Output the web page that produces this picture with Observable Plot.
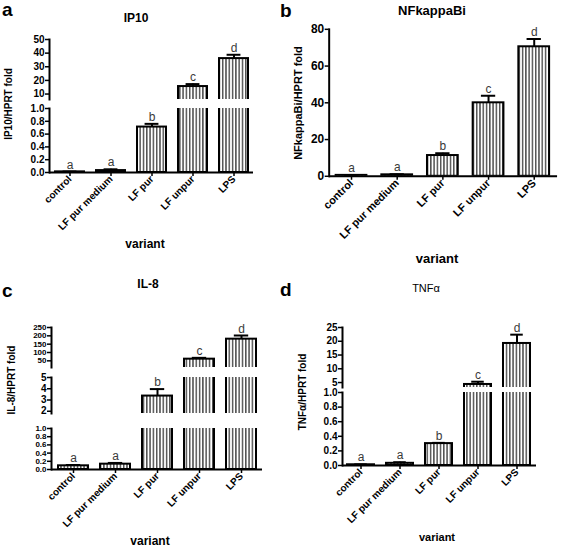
<!DOCTYPE html>
<html>
<head>
<meta charset="utf-8">
<script src="https://cdn.jsdelivr.net/npm/d3@7"></script>
<script src="https://cdn.jsdelivr.net/npm/@observablehq/plot@0.6"></script>
<style>
  html, body { margin: 0; padding: 0; background: white; }
  #root { position: relative; width: 567px; height: 547px; overflow: hidden; background: white; font-family: "Liberation Sans", Arial, sans-serif; color: #000; }
  .txt { position: absolute; white-space: nowrap; transform: translate(-50%, -50%); line-height: 1; }
  .ylab { position: absolute; white-space: nowrap; transform: translate(-50%, -50%) rotate(-90deg); font-weight: bold; line-height: 1; }
  .letter { position: absolute; font-weight: bold; line-height: 1; }
</style>
</head>
<body>
<svg width="0" height="0" style="position:absolute">
  <defs>
    <pattern id="stripes" width="3.3" height="10" patternUnits="userSpaceOnUse">
      <rect width="3.3" height="10" fill="white"></rect>
      <line x1="1.6" y1="0" x2="1.6" y2="10" stroke="#111" stroke-width="1.1"></line>
    </pattern>
  </defs>
</svg>
<div id="root"></div>
<script>
const categories = ["control", "LF pur medium", "LF pur", "LF unpur", "LPS"];
const letters = ["a", "a", "b", "c", "d"];

const ip10Mean = [0.01, 0.03, 0.71, 15.5, 36];
const ip10Err  = [0.005, 0.02, 0.05, 1.8, 2.8];
const nfkbMean = [0.5, 0.8, 11.3, 40, 70.5];
const nfkbErr  = [0.2, 0.3, 1.2, 3.8, 4.2];
const il8Mean  = [0.09, 0.13, 3.35, 60, 180];
const il8Err   = [0.02, 0.03, 0.62, 8, 22];
const tnfMean  = [0.01, 0.03, 0.30, 4.3, 19.2];
const tnfErr   = [0.005, 0.015, 0.01, 1.0, 3.2];

const ip10UpperTicks = [10, 20, 30, 40, 50];
const fractionTicks  = [0, 0.2, 0.4, 0.6, 0.8, 1.0];
const nfkbTicks      = [0, 20, 40, 60, 80];
const il8UpperTicks  = [50, 100, 150, 200, 250];
const il8MidTicks    = [2, 3, 4, 5];
const tnfUpperTicks  = [5, 10, 15, 20, 25];

const root = document.getElementById("root");
const FONT = '"Liberation Sans", Arial, sans-serif';

function segment(o) {
  const mt = 24;
  const mb = o.xAxis ? 110 : 2;
  const h = (o.bottom - o.top) + mt + mb;
  const data = categories.map((c, i) => ({cat: c, v: o.mean[i], e: o.err[i], l: letters[i]}));
  const top = d => d.v + d.e;
  const inSeg = d => top(d) >= o.domain[0] && top(d) <= o.domain[1] * 1.0001;
  const step = (o.axisEnd - o.axisX) / (5 - o.pi + 2 * o.po);
  const bw = step * (1 - o.pi);
  const capInset = bw * 0.26;
  const marks = [
    Plot.barY(data, {x: "cat", y1: 0, y2: "v", fill: "url(#stripes)", stroke: "black", strokeWidth: 2, clip: true}),
    Plot.ruleX(data, {x: "cat", y1: "v", y2: top, stroke: "black", strokeWidth: 2, clip: true}),
    Plot.tickY(data, {x: "cat", y: top, stroke: "black", strokeWidth: 2, insetLeft: capInset, insetRight: capInset, clip: true}),
    Plot.text(data.filter(inSeg), {x: "cat", y: top, text: "l", lineAnchor: "bottom", dy: -3, fill: "#3a3a3a", fontSize: 12, fontWeight: "normal"}),
    Plot.axisY({ticks: o.ticks, tickFormat: o.fmt, tickSize: 4, tickPadding: 1, strokeWidth: 1.5, fontSize: o.tickFont, fontWeight: "bold", label: null}),
    Plot.frame({anchor: "left", stroke: "black", strokeWidth: 2})
  ];
  if (o.xAxis) {
    marks.push(Plot.ruleY([o.domain[0]], {stroke: "black", strokeWidth: 2}));
    marks.push(Plot.axisX({tickRotate: -45, tickSize: 4, tickPadding: 1, strokeWidth: 1.5, fontSize: o.xFont, fontWeight: "bold", label: null}));
  }
  const svg = Plot.plot({
    width: o.axisEnd + 10,
    height: h,
    marginTop: mt,
    marginBottom: mb,
    marginLeft: o.axisX,
    marginRight: 10,
    style: {background: "transparent", overflow: "visible", fontFamily: FONT, color: "black"},
    x: {domain: categories, paddingInner: o.pi, paddingOuter: o.po, axis: null},
    y: {domain: o.domain, axis: null},
    marks
  });
  svg.style.position = "absolute";
  svg.style.left = "0px";
  svg.style.top = (o.top - mt) + "px";
  root.appendChild(svg);
}

function addText(cls, text, x, y, style) {
  const d = document.createElement("div");
  d.className = cls;
  d.textContent = text;
  d.style.left = x + "px";
  d.style.top = y + "px";
  Object.assign(d.style, style || {});
  root.appendChild(d);
}

const f1 = d3.format(".1f");
const f0 = d3.format("d");

// Panel a: IP10
const pa = {mean: ip10Mean, err: ip10Err, axisX: 49, axisEnd: 253, pi: 0.3, po: 0.1, tickFont: 10, xFont: 10};
segment({...pa, domain: [6, 50], top: 39, bottom: 99, ticks: ip10UpperTicks, fmt: f0});
segment({...pa, domain: [0, 1], top: 108, bottom: 172, ticks: fractionTicks, fmt: f1, xAxis: true});

// Panel b: NFkappaBi
const pb = {mean: nfkbMean, err: nfkbErr, axisX: 331, axisEnd: 561, pi: 0.32, po: 0.11, tickFont: 12, xFont: 11};
segment({...pb, domain: [0, 80], top: 29, bottom: 177, ticks: nfkbTicks, fmt: f0, xAxis: true});

// Panel c: IL-8
const pc = {mean: il8Mean, err: il8Err, axisX: 51, axisEnd: 262, pi: 0.29, po: 0.14, tickFont: 10, xFont: 10};
segment({...pc, domain: [10, 250], top: 327, bottom: 367, ticks: il8UpperTicks, fmt: f0, tickFont: 8});
segment({...pc, domain: [1.8, 5], top: 377, bottom: 413, ticks: il8MidTicks, fmt: f0});
segment({...pc, domain: [0, 1], top: 428, bottom: 469, ticks: fractionTicks, fmt: f1, xAxis: true, tickFont: 8});

// Panel d: TNFα
const pd = {mean: tnfMean, err: tnfErr, axisX: 342, axisEnd: 536, pi: 0.3, po: 0.09, tickFont: 10, xFont: 10};
segment({...pd, domain: [3.2, 25], top: 327, bottom: 387, ticks: tnfUpperTicks, fmt: f0});
segment({...pd, domain: [0, 1], top: 392, bottom: 465, ticks: fractionTicks, fmt: f1, xAxis: true});

// Panel letters
addText("letter", "a", 2, 0, {fontSize: "19px"});
addText("letter", "b", 280, 1, {fontSize: "19px"});
addText("letter", "c", 2, 281, {fontSize: "19px"});
addText("letter", "d", 280, 280, {fontSize: "19px"});

// Titles
addText("txt", "IP10", 136, 18, {fontSize: "12px", fontWeight: "bold"});
addText("txt", "NFkappaBi", 432, 10, {fontSize: "13px", fontWeight: "bold"});
addText("txt", "IL-8", 148, 284, {fontSize: "12px", fontWeight: "bold"});
addText("txt", "TNFα", 426, 288, {fontSize: "11px"});

// Y labels
addText("ylab", "IP10/HPRT fold", 9, 104, {fontSize: "10px"});
addText("ylab", "NFkappaBi/HPRT fold", 298, 103, {fontSize: "11px"});
addText("ylab", "IL-8/HPRT fold", 12, 380, {fontSize: "10px"});
addText("ylab", "TNFα/HPRT fold", 303, 392, {fontSize: "10px"});

// X labels
addText("txt", "variant", 145, 244, {fontSize: "12px", fontWeight: "bold"});
addText("txt", "variant", 437, 258, {fontSize: "13px", fontWeight: "bold"});
addText("txt", "variant", 150, 541, {fontSize: "12px", fontWeight: "bold"});
addText("txt", "variant", 437, 537, {fontSize: "11px", fontWeight: "bold"});
</script>
</body>
</html>
